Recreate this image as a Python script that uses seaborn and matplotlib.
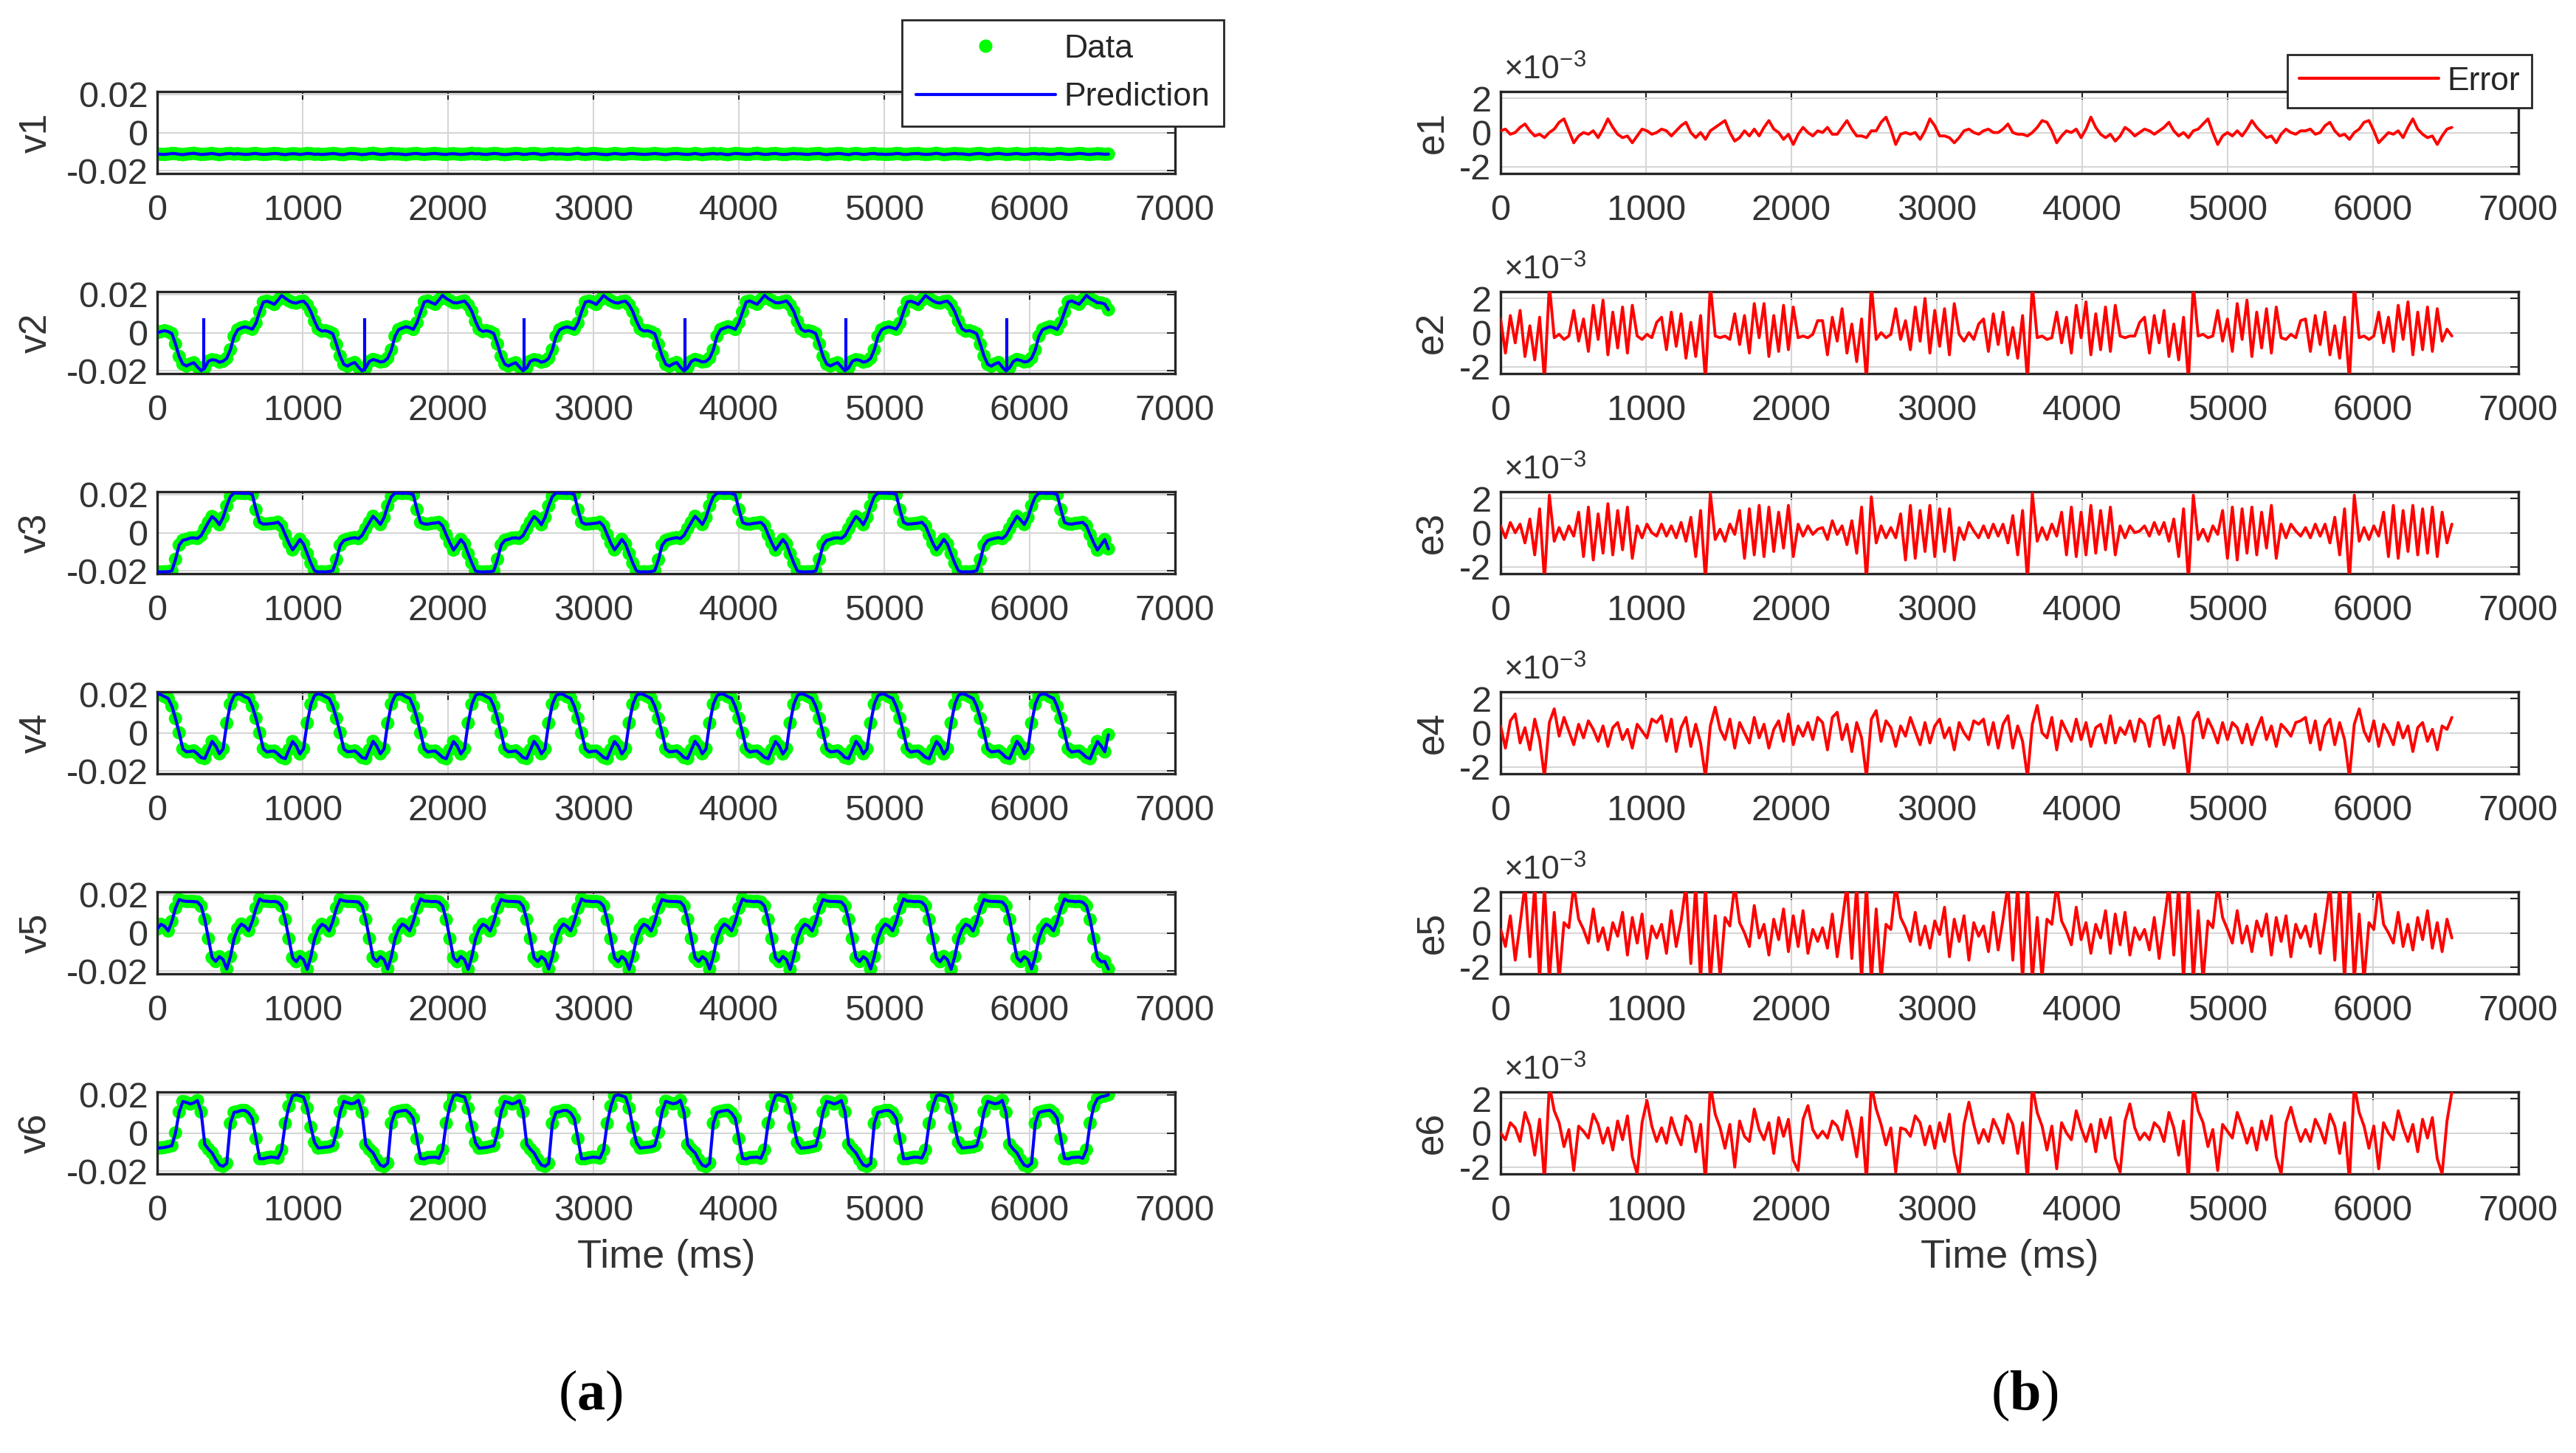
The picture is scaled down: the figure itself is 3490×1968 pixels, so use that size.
import numpy as np
import pandas as pd
import matplotlib
matplotlib.use("Agg")
import matplotlib.pyplot as plt
import seaborn as sns
from matplotlib.lines import Line2D

# ---------------- data ----------------
dt_v_ms = 25.16   # sampling step of the v-signals
dt_e_ms = 33.55   # sampling step of the error signals

v1 = [-0.0112, -0.0114, -0.0115, -0.0113, -0.0110, -0.0111, -0.0114, -0.0116, -0.0113, -0.0111, -0.0109, -0.0112, -0.0115, -0.0114, -0.0112, -0.0110, -0.0113, -0.0116, -0.0114, -0.0111, -0.0110, -0.0113,
      -0.0111, -0.0113, -0.0115, -0.0114, -0.0111, -0.0110, -0.0113, -0.0115, -0.0114, -0.0112, -0.0110, -0.0111, -0.0114, -0.0116, -0.0113, -0.0111, -0.0112, -0.0115, -0.0113, -0.0110, -0.0111, -0.0114,
      -0.0113, -0.0115, -0.0114, -0.0112, -0.0110, -0.0112, -0.0115, -0.0116, -0.0112, -0.0110, -0.0111, -0.0113, -0.0116, -0.0114, -0.0111, -0.0109, -0.0112, -0.0115, -0.0115, -0.0112, -0.0110, -0.0112,
      -0.0112, -0.0114, -0.0116, -0.0113, -0.0111, -0.0110, -0.0113, -0.0115, -0.0113, -0.0111, -0.0110, -0.0112, -0.0114, -0.0115, -0.0112, -0.0111, -0.0113, -0.0115, -0.0114, -0.0112, -0.0109, -0.0112,
      -0.0111, -0.0114, -0.0115, -0.0112, -0.0110, -0.0111, -0.0114, -0.0116, -0.0114, -0.0112, -0.0110, -0.0111, -0.0115, -0.0114, -0.0111, -0.0110, -0.0112, -0.0116, -0.0115, -0.0112, -0.0110, -0.0113,
      -0.0112, -0.0113, -0.0115, -0.0114, -0.0111, -0.0109, -0.0113, -0.0115, -0.0113, -0.0110, -0.0111, -0.0113, -0.0115, -0.0116, -0.0113, -0.0110, -0.0112, -0.0114, -0.0114, -0.0111, -0.0110, -0.0112,
      -0.0113, -0.0115, -0.0114, -0.0112, -0.0110, -0.0112, -0.0114, -0.0116, -0.0113, -0.0111, -0.0110, -0.0112, -0.0114, -0.0115, -0.0113, -0.0110, -0.0113, -0.0116, -0.0114, -0.0112, -0.0110, -0.0113,
      -0.0111, -0.0114, -0.0116, -0.0113, -0.0110, -0.0111, -0.0113, -0.0115, -0.0114, -0.0111, -0.0109, -0.0112, -0.0115, -0.0114, -0.0111, -0.0110, -0.0113, -0.0115, -0.0115, -0.0112, -0.0110, -0.0112,
      -0.0112, -0.0114, -0.0115, -0.0112, -0.0111, -0.0110, -0.0114, -0.0116, -0.0113, -0.0112, -0.0110, -0.0111, -0.0114, -0.0116, -0.0112, -0.0110, -0.0112, -0.0115, -0.0114, -0.0111, -0.0110, -0.0113,
      -0.0113, -0.0115, -0.0114, -0.0113, -0.0110, -0.0111, -0.0115, -0.0115, -0.0112, -0.0111, -0.0110, -0.0113, -0.0115, -0.0114, -0.0112, -0.0109, -0.0112, -0.0116, -0.0114, -0.0112, -0.0110, -0.0112,
      -0.0112, -0.0114, -0.0116, -0.0113, -0.0111, -0.0110, -0.0113, -0.0116, -0.0114, -0.0111, -0.0110, -0.0112, -0.0115, -0.0114, -0.0112, -0.0110, -0.0113, -0.0115, -0.0114, -0.0111, -0.0110, -0.0113,
      -0.0111, -0.0113, -0.0115, -0.0114, -0.0111, -0.0110, -0.0113, -0.0115, -0.0114, -0.0112, -0.0110, -0.0111, -0.0114, -0.0115, -0.0113, -0.0111, -0.0112, -0.0114, -0.0113]

v2 = [0.0000, 0.0005, 0.0010, 0.0005, -0.0005, -0.0060, -0.0125, -0.0165, -0.0175, -0.0165, -0.0158, -0.0180, -0.0200, -0.0185, -0.0150, -0.0142, -0.0145, -0.0155, -0.0150, -0.0135, -0.0090, -0.0020, 0.0015, 0.0025, 0.0030, 0.0025, 0.0018, 0.0050, 0.0110, 0.0160, 0.0165, 0.0158, 0.0148, 0.0170, 0.0195, 0.0180, 0.0167, 0.0158, 0.0155, 0.0162, 0.0165, 0.0145, 0.0110, 0.0060,
      0.0020, 0.0008, 0.0010, 0.0004, -0.0006, -0.0062, -0.0123, -0.0166, -0.0176, -0.0164, -0.0157, -0.0181, -0.0201, -0.0184, -0.0151, -0.0141, -0.0146, -0.0154, -0.0151, -0.0134, -0.0091, -0.0019, 0.0016, 0.0024, 0.0031, 0.0026, 0.0017, 0.0052, 0.0108, 0.0161, 0.0166, 0.0157, 0.0149, 0.0171, 0.0196, 0.0179, 0.0168, 0.0157, 0.0156, 0.0161, 0.0166, 0.0144, 0.0111, 0.0059,
      0.0018, 0.0006, 0.0010, 0.0005, -0.0005, -0.0060, -0.0125, -0.0165, -0.0175, -0.0165, -0.0158, -0.0180, -0.0200, -0.0185, -0.0150, -0.0142, -0.0145, -0.0155, -0.0150, -0.0135, -0.0090, -0.0020, 0.0015, 0.0025, 0.0030, 0.0025, 0.0018, 0.0050, 0.0110, 0.0160, 0.0165, 0.0158, 0.0148, 0.0170, 0.0195, 0.0180, 0.0167, 0.0158, 0.0155, 0.0162, 0.0165, 0.0145, 0.0110, 0.0060,
      0.0020, 0.0008, 0.0010, 0.0004, -0.0006, -0.0062, -0.0123, -0.0166, -0.0176, -0.0164, -0.0157, -0.0181, -0.0201, -0.0184, -0.0151, -0.0141, -0.0146, -0.0154, -0.0151, -0.0134, -0.0091, -0.0019, 0.0016, 0.0024, 0.0031, 0.0026, 0.0017, 0.0052, 0.0108, 0.0161, 0.0166, 0.0157, 0.0149, 0.0171, 0.0196, 0.0179, 0.0168, 0.0157, 0.0156, 0.0161, 0.0166, 0.0144, 0.0111, 0.0059,
      0.0019, 0.0006, 0.0010, 0.0005, -0.0005, -0.0060, -0.0125, -0.0165, -0.0175, -0.0165, -0.0158, -0.0180, -0.0200, -0.0185, -0.0150, -0.0142, -0.0145, -0.0155, -0.0150, -0.0135, -0.0090, -0.0020, 0.0015, 0.0025, 0.0030, 0.0025, 0.0018, 0.0050, 0.0110, 0.0160, 0.0165, 0.0158, 0.0148, 0.0170, 0.0195, 0.0180, 0.0167, 0.0158, 0.0155, 0.0162, 0.0165, 0.0145, 0.0110, 0.0060,
      0.0020, 0.0008, 0.0010, 0.0004, -0.0006, -0.0062, -0.0123, -0.0166, -0.0176, -0.0164, -0.0157, -0.0181, -0.0201, -0.0184, -0.0151, -0.0141, -0.0146, -0.0154, -0.0151, -0.0134, -0.0091, -0.0019, 0.0016, 0.0024, 0.0031, 0.0026, 0.0017, 0.0052, 0.0108, 0.0161, 0.0166, 0.0157, 0.0149, 0.0171, 0.0196, 0.0179, 0.0168, 0.0157, 0.0156, 0.0150, 0.0120]

v3 = [-0.0205, -0.0206, -0.0205, -0.0205, -0.0200, -0.0140, -0.0065, -0.0040, -0.0035, -0.0028, -0.0027, -0.0030, -0.0015, 0.0020, 0.0055, 0.0085, 0.0068, 0.0042, 0.0080, 0.0140, 0.0190, 0.0208, 0.0208, 0.0207, 0.0206, 0.0207, 0.0200, 0.0120, 0.0055, 0.0045, 0.0046, 0.0048, 0.0050, 0.0055, 0.0035, -0.0010, -0.0055, -0.0090, -0.0065, -0.0035, -0.0060, -0.0110, -0.0160, -0.0200,
      -0.0206, -0.0205, -0.0206, -0.0204, -0.0199, -0.0142, -0.0066, -0.0041, -0.0034, -0.0029, -0.0026, -0.0031, -0.0014, 0.0021, 0.0054, 0.0086, 0.0067, 0.0043, 0.0079, 0.0141, 0.0189, 0.0207, 0.0208, 0.0206, 0.0207, 0.0206, 0.0199, 0.0121, 0.0054, 0.0046, 0.0045, 0.0049, 0.0051, 0.0054, 0.0036, -0.0011, -0.0054, -0.0091, -0.0064, -0.0036, -0.0059, -0.0111, -0.0159, -0.0201,
      -0.0205, -0.0206, -0.0205, -0.0205, -0.0200, -0.0140, -0.0065, -0.0040, -0.0035, -0.0028, -0.0027, -0.0030, -0.0015, 0.0020, 0.0055, 0.0085, 0.0068, 0.0042, 0.0080, 0.0140, 0.0190, 0.0208, 0.0208, 0.0207, 0.0206, 0.0207, 0.0200, 0.0120, 0.0055, 0.0045, 0.0046, 0.0048, 0.0050, 0.0055, 0.0035, -0.0010, -0.0055, -0.0090, -0.0065, -0.0035, -0.0060, -0.0110, -0.0160, -0.0200,
      -0.0206, -0.0205, -0.0206, -0.0204, -0.0199, -0.0142, -0.0066, -0.0041, -0.0034, -0.0029, -0.0026, -0.0031, -0.0014, 0.0021, 0.0054, 0.0086, 0.0067, 0.0043, 0.0079, 0.0141, 0.0189, 0.0207, 0.0208, 0.0206, 0.0207, 0.0206, 0.0199, 0.0121, 0.0054, 0.0046, 0.0045, 0.0049, 0.0051, 0.0054, 0.0036, -0.0011, -0.0054, -0.0091, -0.0064, -0.0036, -0.0059, -0.0111, -0.0159, -0.0201,
      -0.0205, -0.0206, -0.0205, -0.0205, -0.0200, -0.0140, -0.0065, -0.0040, -0.0035, -0.0028, -0.0027, -0.0030, -0.0015, 0.0020, 0.0055, 0.0085, 0.0068, 0.0042, 0.0080, 0.0140, 0.0190, 0.0208, 0.0208, 0.0207, 0.0206, 0.0207, 0.0200, 0.0120, 0.0055, 0.0045, 0.0046, 0.0048, 0.0050, 0.0055, 0.0035, -0.0010, -0.0055, -0.0090, -0.0065, -0.0035, -0.0060, -0.0110, -0.0160, -0.0200,
      -0.0206, -0.0205, -0.0206, -0.0204, -0.0199, -0.0142, -0.0066, -0.0041, -0.0034, -0.0029, -0.0026, -0.0031, -0.0014, 0.0021, 0.0054, 0.0086, 0.0067, 0.0043, 0.0079, 0.0141, 0.0189, 0.0207, 0.0208, 0.0206, 0.0207, 0.0206, 0.0199, 0.0121, 0.0054, 0.0046, 0.0045, 0.0049, 0.0051, 0.0054, 0.0036, -0.0011, -0.0054, -0.0091, -0.0064, -0.0036, -0.0085]

v4 = [0.0205, 0.0200, 0.0190, 0.0180, 0.0140, 0.0075, 0.0000, -0.0085, -0.0100, -0.0098, -0.0095, -0.0110, -0.0130, -0.0135, -0.0090, -0.0045, -0.0070, -0.0110, -0.0085, 0.0050, 0.0150, 0.0195,
      0.0204, 0.0201, 0.0189, 0.0181, 0.0139, 0.0076, -0.0001, -0.0084, -0.0101, -0.0097, -0.0096, -0.0111, -0.0129, -0.0136, -0.0089, -0.0046, -0.0069, -0.0111, -0.0084, 0.0051, 0.0149, 0.0196,
      0.0205, 0.0200, 0.0190, 0.0180, 0.0140, 0.0075, 0.0000, -0.0085, -0.0100, -0.0098, -0.0095, -0.0110, -0.0130, -0.0135, -0.0090, -0.0045, -0.0070, -0.0110, -0.0085, 0.0050, 0.0150, 0.0195,
      0.0204, 0.0201, 0.0189, 0.0181, 0.0139, 0.0076, -0.0001, -0.0084, -0.0101, -0.0097, -0.0096, -0.0111, -0.0129, -0.0136, -0.0089, -0.0046, -0.0069, -0.0111, -0.0084, 0.0051, 0.0149, 0.0196,
      0.0205, 0.0200, 0.0190, 0.0180, 0.0140, 0.0075, 0.0000, -0.0085, -0.0100, -0.0098, -0.0095, -0.0110, -0.0130, -0.0135, -0.0090, -0.0045, -0.0070, -0.0110, -0.0085, 0.0050, 0.0150, 0.0195,
      0.0204, 0.0201, 0.0189, 0.0181, 0.0139, 0.0076, -0.0001, -0.0084, -0.0101, -0.0097, -0.0096, -0.0111, -0.0129, -0.0136, -0.0089, -0.0046, -0.0069, -0.0111, -0.0084, 0.0051, 0.0149, 0.0196,
      0.0205, 0.0200, 0.0190, 0.0180, 0.0140, 0.0075, 0.0000, -0.0085, -0.0100, -0.0098, -0.0095, -0.0110, -0.0130, -0.0135, -0.0090, -0.0045, -0.0070, -0.0110, -0.0085, 0.0050, 0.0150, 0.0195,
      0.0204, 0.0201, 0.0189, 0.0181, 0.0139, 0.0076, -0.0001, -0.0084, -0.0101, -0.0097, -0.0096, -0.0111, -0.0129, -0.0136, -0.0089, -0.0046, -0.0069, -0.0111, -0.0084, 0.0051, 0.0149, 0.0196,
      0.0205, 0.0200, 0.0190, 0.0180, 0.0140, 0.0075, 0.0000, -0.0085, -0.0100, -0.0098, -0.0095, -0.0110, -0.0130, -0.0135, -0.0090, -0.0045, -0.0070, -0.0110, -0.0085, 0.0050, 0.0150, 0.0195,
      0.0204, 0.0201, 0.0189, 0.0181, 0.0139, 0.0076, -0.0001, -0.0084, -0.0101, -0.0097, -0.0096, -0.0111, -0.0129, -0.0136, -0.0089, -0.0046, -0.0069, -0.0111, -0.0084, 0.0051, 0.0149, 0.0196,
      0.0205, 0.0200, 0.0190, 0.0180, 0.0140, 0.0075, 0.0000, -0.0085, -0.0100, -0.0098, -0.0095, -0.0110, -0.0130, -0.0135, -0.0090, -0.0045, -0.0070, -0.0110, -0.0085, 0.0050, 0.0150, 0.0195,
      0.0204, 0.0201, 0.0189, 0.0181, 0.0139, 0.0076, -0.0001, -0.0084, -0.0101, -0.0097, -0.0096, -0.0111, -0.0129, -0.0136, -0.0089, -0.0046, -0.0069, -0.0100, -0.0010]

v5 = [0.0020, 0.0045, 0.0035, 0.0010, 0.0060, 0.0130, 0.0175, 0.0168, 0.0165, 0.0165, 0.0164, 0.0162, 0.0140, 0.0070, -0.0030, -0.0130, -0.0150, -0.0125, -0.0140, -0.0190, -0.0125, -0.0030,
      0.0021, 0.0046, 0.0034, 0.0011, 0.0061, 0.0129, 0.0178, 0.0167, 0.0166, 0.0164, 0.0165, 0.0161, 0.0141, 0.0069, -0.0031, -0.0131, -0.0151, -0.0124, -0.0141, -0.0192, -0.0124, -0.0031,
      0.0020, 0.0045, 0.0035, 0.0010, 0.0060, 0.0130, 0.0175, 0.0168, 0.0165, 0.0165, 0.0164, 0.0162, 0.0140, 0.0070, -0.0030, -0.0130, -0.0150, -0.0125, -0.0140, -0.0190, -0.0125, -0.0030,
      0.0021, 0.0046, 0.0034, 0.0011, 0.0061, 0.0129, 0.0178, 0.0167, 0.0166, 0.0164, 0.0165, 0.0161, 0.0141, 0.0069, -0.0031, -0.0131, -0.0151, -0.0124, -0.0141, -0.0192, -0.0124, -0.0031,
      0.0020, 0.0045, 0.0035, 0.0010, 0.0060, 0.0130, 0.0175, 0.0168, 0.0165, 0.0165, 0.0164, 0.0162, 0.0140, 0.0070, -0.0030, -0.0130, -0.0150, -0.0125, -0.0140, -0.0190, -0.0125, -0.0030,
      0.0021, 0.0046, 0.0034, 0.0011, 0.0061, 0.0129, 0.0178, 0.0167, 0.0166, 0.0164, 0.0165, 0.0161, 0.0141, 0.0069, -0.0031, -0.0131, -0.0151, -0.0124, -0.0141, -0.0192, -0.0124, -0.0031,
      0.0020, 0.0045, 0.0035, 0.0010, 0.0060, 0.0130, 0.0175, 0.0168, 0.0165, 0.0165, 0.0164, 0.0162, 0.0140, 0.0070, -0.0030, -0.0130, -0.0150, -0.0125, -0.0140, -0.0190, -0.0125, -0.0030,
      0.0021, 0.0046, 0.0034, 0.0011, 0.0061, 0.0129, 0.0178, 0.0167, 0.0166, 0.0164, 0.0165, 0.0161, 0.0141, 0.0069, -0.0031, -0.0131, -0.0151, -0.0124, -0.0141, -0.0192, -0.0124, -0.0031,
      0.0020, 0.0045, 0.0035, 0.0010, 0.0060, 0.0130, 0.0175, 0.0168, 0.0165, 0.0165, 0.0164, 0.0162, 0.0140, 0.0070, -0.0030, -0.0130, -0.0150, -0.0125, -0.0140, -0.0190, -0.0125, -0.0030,
      0.0021, 0.0046, 0.0034, 0.0011, 0.0061, 0.0129, 0.0178, 0.0167, 0.0166, 0.0164, 0.0165, 0.0161, 0.0141, 0.0069, -0.0031, -0.0131, -0.0151, -0.0124, -0.0141, -0.0192, -0.0124, -0.0031,
      0.0020, 0.0045, 0.0035, 0.0010, 0.0060, 0.0130, 0.0175, 0.0168, 0.0165, 0.0165, 0.0164, 0.0162, 0.0140, 0.0070, -0.0030, -0.0130, -0.0150, -0.0125, -0.0140, -0.0190, -0.0125, -0.0030,
      0.0021, 0.0046, 0.0034, 0.0011, 0.0061, 0.0129, 0.0178, 0.0167, 0.0166, 0.0164, 0.0165, 0.0161, 0.0141, 0.0069, -0.0031, -0.0131, -0.0151, -0.0150, -0.0190]

v6 = [-0.0080, -0.0078, -0.0076, -0.0072, -0.0067, 0.0000, 0.0110, 0.0165, 0.0160, 0.0152, 0.0158, 0.0170, 0.0110, -0.0060, -0.0085, -0.0105, -0.0140, -0.0168, -0.0175, -0.0160, 0.0050, 0.0108, 0.0112, 0.0118, 0.0118, 0.0105, 0.0075, -0.0030, -0.0135, -0.0135, -0.0130, -0.0127, -0.0128, -0.0132, -0.0090, 0.0050, 0.0140, 0.0195, 0.0200, 0.0195, 0.0188, 0.0130, 0.0030, -0.0050,
      -0.0079, -0.0077, -0.0075, -0.0073, -0.0066, 0.0002, 0.0111, 0.0166, 0.0159, 0.0153, 0.0157, 0.0171, 0.0108, -0.0061, -0.0086, -0.0104, -0.0141, -0.0169, -0.0176, -0.0159, 0.0051, 0.0107, 0.0113, 0.0117, 0.0119, 0.0104, 0.0076, -0.0031, -0.0134, -0.0136, -0.0129, -0.0128, -0.0127, -0.0133, -0.0089, 0.0051, 0.0141, 0.0196, 0.0201, 0.0194, 0.0189, 0.0129, 0.0031, -0.0051,
      -0.0080, -0.0078, -0.0076, -0.0072, -0.0067, 0.0000, 0.0110, 0.0165, 0.0160, 0.0152, 0.0158, 0.0170, 0.0110, -0.0060, -0.0085, -0.0105, -0.0140, -0.0168, -0.0175, -0.0160, 0.0050, 0.0108, 0.0112, 0.0118, 0.0118, 0.0105, 0.0075, -0.0030, -0.0135, -0.0135, -0.0130, -0.0127, -0.0128, -0.0132, -0.0090, 0.0050, 0.0140, 0.0195, 0.0200, 0.0195, 0.0188, 0.0130, 0.0030, -0.0050,
      -0.0079, -0.0077, -0.0075, -0.0073, -0.0066, 0.0002, 0.0111, 0.0166, 0.0159, 0.0153, 0.0157, 0.0171, 0.0108, -0.0061, -0.0086, -0.0104, -0.0141, -0.0169, -0.0176, -0.0159, 0.0051, 0.0107, 0.0113, 0.0117, 0.0119, 0.0104, 0.0076, -0.0031, -0.0134, -0.0136, -0.0129, -0.0128, -0.0127, -0.0133, -0.0089, 0.0051, 0.0141, 0.0196, 0.0201, 0.0194, 0.0189, 0.0129, 0.0031, -0.0051,
      -0.0080, -0.0078, -0.0076, -0.0072, -0.0067, 0.0000, 0.0110, 0.0165, 0.0160, 0.0152, 0.0158, 0.0170, 0.0110, -0.0060, -0.0085, -0.0105, -0.0140, -0.0168, -0.0175, -0.0160, 0.0050, 0.0108, 0.0112, 0.0118, 0.0118, 0.0105, 0.0075, -0.0030, -0.0135, -0.0135, -0.0130, -0.0127, -0.0128, -0.0132, -0.0090, 0.0050, 0.0140, 0.0195, 0.0200, 0.0195, 0.0188, 0.0130, 0.0030, -0.0050,
      -0.0079, -0.0077, -0.0075, -0.0073, -0.0066, 0.0002, 0.0111, 0.0166, 0.0159, 0.0153, 0.0157, 0.0171, 0.0108, -0.0061, -0.0086, -0.0104, -0.0141, -0.0169, -0.0176, -0.0159, 0.0051, 0.0107, 0.0113, 0.0117, 0.0119, 0.0104, 0.0076, -0.0031, -0.0134, -0.0136, -0.0129, -0.0128, -0.0127, -0.0133, -0.0089, 0.0051, 0.0141, 0.0180, 0.0190, 0.0194, 0.0200]

# thin prediction spikes visible in v2
v2_spike_times_ms = [320, 1425, 2525, 3630, 4737, 5845]
v2_spike_low = [-0.0200, -0.0203, -0.0201, -0.0202, -0.0201, -0.0202]
v2_spike_high = [0.0075, 0.0075, 0.0075, 0.0075, 0.0075, 0.0075]

# errors, in units of 1e-3
e1 = [0.1, 0.2, -0.1, 0.0, 0.3, 0.5, 0.1, -0.2, -0.1, -0.3, 0.0, 0.2, 0.6, 0.8, 0.1, -0.6, -0.2, 0.0, -0.1, 0.1, -0.3, 0.2, 0.8, 0.3, -0.1, -0.3, -0.2, -0.6, -0.2, 0.2, 0.1, -0.1, 0.0,
      0.2, 0.1, -0.2, 0.1, 0.4, 0.6, 0.0, -0.3, 0.0, -0.4, 0.1, 0.3, 0.5, 0.7, 0.0, -0.5, -0.3, 0.1, -0.2, 0.2, -0.2, 0.3, 0.7, 0.2, 0.0, -0.4, -0.1, -0.7, -0.1, 0.3, 0.0, -0.2, 0.1,
      0.0, 0.3, -0.1, -0.1, 0.3, 0.7, 0.2, -0.2, -0.2, -0.3, 0.1, 0.1, 0.6, 0.9, 0.2, -0.7, -0.1, 0.0, -0.1, 0.0, -0.4, 0.1, 0.8, 0.4, -0.2, -0.2, -0.3, -0.6, -0.3, 0.1, 0.2, 0.0, -0.1,
      0.1, 0.2, 0.0, 0.0, 0.2, 0.5, 0.0, -0.1, -0.1, -0.2, 0.0, 0.3, 0.7, 0.6, 0.1, -0.6, -0.2, 0.1, 0.0, 0.2, -0.3, 0.2, 0.9, 0.3, -0.1, -0.3, -0.1, -0.5, -0.2, 0.3, 0.1, -0.2, 0.0,
      0.2, 0.1, -0.1, 0.1, 0.3, 0.6, 0.1, -0.2, 0.0, -0.3, 0.1, 0.2, 0.5, 0.8, 0.0, -0.7, -0.2, 0.0, -0.2, 0.1, -0.2, 0.2, 0.7, 0.3, 0.0, -0.3, -0.2, -0.6, -0.1, 0.2, 0.0, -0.1, 0.1,
      0.1, 0.2, -0.1, 0.0, 0.4, 0.6, 0.1, -0.2, -0.1, -0.4, 0.0, 0.2, 0.6, 0.7, 0.1, -0.6, -0.3, 0.0, -0.1, 0.1, -0.3, 0.3, 0.8, 0.2, -0.1, -0.3, -0.2, -0.7, -0.2, 0.2, 0.3]

e2 = [0.8, -1.2, 1.0, -0.6, 1.3, -1.4, 0.4, -1.6, 0.9, -2.8, 2.8, -0.3, -0.1, -0.4, -0.2, 1.3, -0.5, 0.8, -1.1, 1.6, -0.4, 1.9, -1.3, 1.2, -0.9, 1.5, -1.2, 1.6, -0.2, -0.4, -0.1, -0.3, 0.6,
      0.9, -1.0, 1.2, -0.8, 1.1, -1.5, 0.6, -1.4, 1.0, -2.8, 2.8, -0.2, -0.3, -0.2, -0.4, 1.1, -0.7, 1.0, -1.2, 1.7, -0.3, 1.7, -1.4, 1.0, -1.1, 1.6, -1.0, 1.5, -0.3, -0.2, -0.3, -0.1, 0.7,
      0.7, -1.3, 0.9, -0.5, 1.4, -1.2, 0.5, -1.7, 0.8, -2.8, 2.8, -0.4, 0.0, -0.3, -0.1, 1.4, -0.4, 0.7, -1.0, 1.5, -0.5, 2.0, -1.2, 1.3, -0.8, 1.4, -1.3, 1.7, -0.1, -0.5, 0.0, -0.4, 0.5,
      0.8, -1.1, 1.1, -0.7, 1.2, -1.3, 0.3, -1.5, 1.0, -2.8, 2.8, -0.3, -0.2, -0.4, -0.3, 1.2, -0.6, 0.9, -1.2, 1.6, -0.3, 1.8, -1.3, 1.1, -1.0, 1.5, -1.1, 1.6, -0.2, -0.3, -0.2, -0.2, 0.6,
      0.9, -1.2, 1.0, -0.6, 1.3, -1.4, 0.5, -1.6, 0.9, -2.8, 2.8, -0.2, -0.1, -0.3, -0.2, 1.3, -0.5, 0.8, -1.1, 1.7, -0.4, 1.9, -1.4, 1.2, -0.9, 1.4, -1.2, 1.5, -0.3, -0.4, -0.1, -0.3, 0.7,
      0.8, -1.1, 1.0, -0.7, 1.2, -1.3, 0.4, -1.5, 0.9, -2.8, 2.8, -0.3, -0.2, -0.4, -0.2, 1.2, -0.6, 0.9, -1.1, 1.6, -0.4, 1.8, -1.3, 1.2, -1.0, 1.5, -1.1, 1.4, -0.5, 0.2, -0.2]

e3 = [0.4, -0.3, 0.6, 0.0, 0.5, -0.6, 0.8, -1.3, 1.4, -2.8, 2.2, -0.5, 0.3, -0.4, 0.4, -0.2, 1.2, -1.4, 1.5, -1.6, 1.1, -1.2, 1.7, -1.3, 1.3, -1.0, 1.5, -1.5, 0.4, -0.3, 0.5, 0.0, -0.2,
      0.5, -0.2, 0.4, -0.3, 0.6, -0.5, 0.9, -1.4, 1.3, -2.8, 2.3, -0.4, 0.2, -0.5, 0.5, -0.1, 1.3, -1.5, 1.4, -1.3, 1.6, -1.4, 1.5, -1.1, 1.2, -0.9, 1.6, -1.4, 0.5, -0.2, 0.4, -0.1, 0.2,
      0.3, -0.4, 0.7, -0.1, 0.4, -0.7, 0.7, -1.2, 1.5, -2.8, 2.1, -0.6, 0.4, -0.3, 0.3, -0.3, 1.1, -1.6, 1.6, -1.5, 1.3, -1.1, 1.6, -1.4, 1.4, -1.1, 1.4, -1.6, 0.3, -0.4, 0.6, 0.1, -0.3,
      0.4, -0.3, 0.5, -0.2, 0.5, -0.6, 1.0, -1.3, 1.3, -2.8, 2.3, -0.5, 0.3, -0.4, 0.5, -0.2, 1.2, -1.3, 1.5, -1.4, 1.2, -1.3, 1.6, -1.2, 1.3, -1.0, 1.5, -1.3, 0.4, -0.3, 0.4, 0.0, 0.1,
      0.4, -0.2, 0.6, -0.1, 0.6, -0.5, 0.8, -1.4, 1.4, -2.8, 2.2, -0.4, 0.2, -0.5, 0.4, -0.1, 1.3, -1.5, 1.5, -1.6, 1.4, -1.2, 1.5, -1.3, 1.2, -0.9, 1.6, -1.5, 0.5, -0.3, 0.5, 0.1, -0.2,
      0.3, -0.3, 0.5, -0.2, 0.5, -0.6, 0.9, -1.3, 1.4, -2.8, 2.2, -0.5, 0.3, -0.4, 0.4, -0.2, 1.2, -1.4, 1.6, -1.5, 1.3, -1.1, 1.6, -1.3, 1.4, -1.2, 1.5, -1.4, 1.2, -0.6, 0.5]

e4 = [0.4, -0.9, 0.7, 1.1, -0.6, 0.3, -1.0, 0.8, -0.4, -2.6, 0.6, 1.4, -0.2, 0.9, 0.1, -0.7, 0.5, -0.3, 0.7, 0.2, -0.5, 0.4, -0.8, 0.3, 0.6, -0.4, 0.2, -0.9, 0.5, 0.1, -0.3, 0.8, 0.6,
      1.0, -0.5, 0.8, -1.1, 0.3, 0.9, -0.8, 0.5, -0.6, -2.6, 0.4, 1.5, 0.2, -0.4, 0.8, -0.9, 0.6, 0.0, -0.6, 0.9, -0.3, 0.5, -0.9, 0.2, 0.7, -0.5, 1.1, -0.7, 0.4, -0.2, 0.6, -0.4, 0.9,
      0.6, -1.0, 0.9, 1.2, -0.4, 0.5, -1.1, 0.6, -0.3, -2.6, 0.8, 1.3, -0.5, 0.7, 0.3, -0.8, 0.4, -0.2, 0.9, 0.1, -0.7, 0.6, -0.6, 0.4, 0.8, -0.3, 0.3, -1.0, 0.6, 0.0, -0.4, 0.7, 0.5,
      0.8, -0.7, 0.6, -0.9, 0.5, 1.0, -0.9, 0.4, -0.5, -2.6, 0.5, 1.6, 0.0, -0.3, 0.9, -1.0, 0.7, 0.1, -0.5, 0.8, -0.4, 0.6, -0.8, 0.3, 0.5, -0.6, 1.0, -0.6, 0.3, -0.1, 0.7, -0.5, 0.8,
      0.5, -0.8, 0.8, 1.0, -0.7, 0.4, -0.9, 0.9, -0.2, -2.6, 0.7, 1.2, -0.3, 0.8, 0.2, -0.6, 0.6, -0.4, 0.6, 0.3, -0.6, 0.5, -0.7, 0.2, 0.9, -0.4, 0.4, -0.8, 0.5, 0.2, -0.2, 0.6, 0.7,
      0.9, -0.6, 0.7, -1.0, 0.4, 0.8, -0.7, 0.6, -0.4, -2.6, 0.5, 1.4, 0.1, -0.5, 0.7, -0.8, 0.5, 0.0, -0.7, 0.6, -0.3, 0.4, -1.1, 0.3, 0.6, -0.5, 0.2, -1.0, 0.4, 0.2, 0.9]

e5 = [0.2, -0.8, 1.0, -1.6, 0.5, 2.8, -1.4, 2.8, -2.8, 2.8, -2.8, 1.2, -2.8, 0.6, 0.3, 2.8, 0.8, 0.2, -0.6, 1.4, -0.5, 0.3, -1.0, 0.6, -0.2, 1.2, -1.3, 0.9, -0.6, 1.1, -1.5, 0.4, -0.3,
      0.5, -1.2, 1.3, -0.8, 0.7, 2.8, -1.8, 2.8, -2.8, 2.8, -2.8, 1.0, -2.6, 0.9, 0.4, 2.8, 0.6, 0.0, -0.8, 1.6, -0.3, 0.5, -1.3, 0.8, -0.4, 1.4, -1.1, 1.0, -0.8, 1.3, -1.2, 0.2, -0.5,
      0.3, -0.9, 1.1, -1.4, 0.6, 2.8, -1.5, 2.8, -2.8, 2.8, -2.8, 1.4, -2.8, 0.5, 0.2, 2.8, 0.9, 0.3, -0.5, 1.2, -0.7, 0.4, -0.9, 0.7, -0.1, 1.5, -1.4, 0.8, -0.5, 1.0, -1.6, 0.6, -0.2,
      0.4, -1.1, 1.2, -1.0, 0.8, 2.8, -1.6, 2.8, -2.8, 2.8, -2.8, 0.9, -2.7, 0.8, 0.5, 2.8, 0.7, 0.1, -0.7, 1.5, -0.4, 0.6, -1.2, 0.5, -0.3, 1.3, -1.2, 1.1, -0.7, 1.2, -1.3, 0.3, -0.4,
      0.2, -1.0, 0.9, -1.5, 0.6, 2.8, -1.3, 2.8, -2.8, 2.8, -2.8, 1.3, -2.8, 0.7, 0.3, 2.8, 0.9, 0.2, -0.6, 1.3, -0.6, 0.4, -1.1, 0.7, -0.2, 1.1, -1.3, 0.9, -0.5, 1.0, -1.4, 0.5, -0.3,
      0.4, -0.8, 1.1, -1.2, 0.7, 2.8, -1.6, 2.8, -2.8, 2.8, -2.8, 1.1, -2.8, 0.6, 0.2, 2.8, 0.5, 0.0, -0.6, 1.2, -0.8, 0.5, -1.0, 0.9, -0.4, 1.3, -0.9, 0.6, -1.1, 0.8, -0.3]

e6 = [0.0, -0.4, 0.6, 0.3, -0.5, 1.2, 0.4, -1.3, 0.8, -2.8, 2.8, 1.3, 0.6, -0.8, 0.2, -2.2, 0.4, 0.1, -0.3, 1.1, 0.5, -0.6, 0.3, -1.0, 0.7, -0.4, 1.0, -1.4, -2.4, 0.6, 1.9, 0.4, -0.5,
      0.3, -0.6, 0.9, 0.0, -0.7, 1.0, 0.6, -1.1, 0.5, -2.8, 2.8, 1.1, 0.3, -0.9, 0.5, -2.0, 0.7, -0.2, -0.5, 1.4, 0.2, -0.4, 0.6, -1.2, 0.9, -0.2, 0.8, -1.6, -2.2, 0.8, 1.6, 0.2, -0.3,
      0.1, -0.3, 0.7, 0.4, -0.4, 1.3, 0.2, -1.4, 0.9, -2.8, 2.8, 1.4, 0.5, -0.7, 0.3, -2.3, 0.3, 0.2, -0.2, 1.0, 0.6, -0.7, 0.4, -0.9, 0.6, -0.5, 1.1, -1.2, -2.5, 0.5, 1.8, 0.5, -0.6,
      0.2, -0.5, 0.8, 0.2, -0.6, 1.1, 0.5, -1.2, 0.6, -2.8, 2.8, 1.2, 0.4, -1.0, 0.4, -2.1, 0.6, 0.0, -0.4, 1.3, 0.3, -0.5, 0.5, -1.1, 0.8, -0.3, 0.9, -1.5, -2.3, 0.7, 1.7, 0.3, -0.4,
      0.0, -0.4, 0.6, 0.3, -0.5, 1.2, 0.3, -1.3, 0.7, -2.8, 2.8, 1.3, 0.6, -0.8, 0.2, -2.2, 0.5, 0.1, -0.3, 1.2, 0.4, -0.6, 0.3, -1.0, 0.7, -0.4, 1.0, -1.4, -2.4, 0.6, 1.5, 0.4, -0.5,
      0.2, -0.5, 0.8, 0.2, -0.6, 1.1, 0.4, -1.2, 0.6, -2.8, 2.8, 1.2, 0.4, -0.9, 0.4, -2.1, 0.6, 0.0, -0.4, 1.3, 0.3, -0.5, 0.5, -1.1, 0.8, -0.3, 0.9, -1.5, -2.4, 0.7, 2.4]

v_series = {"v1": v1, "v2": v2, "v3": v3, "v4": v4, "v5": v5, "v6": v6}
e_series = {"e1": e1, "e2": e2, "e3": e3, "e4": e4, "e5": e5, "e6": e6}

x_ticks = [0, 1000, 2000, 3000, 4000, 5000, 6000, 7000]
x_tick_labels = ["0", "1000", "2000", "3000", "4000", "5000", "6000", "7000"]
v_ticks = [-0.02, 0, 0.02]
v_tick_labels = ["-0.02", "0", "0.02"]
e_ticks = [-0.002, 0, 0.002]
e_tick_labels = ["-2", "0", "2"]

# ---------------- styling ----------------
sns.set_theme(style="white")
plt.rcParams["font.family"] = ["Liberation Sans", "DejaVu Sans"]
plt.rcParams["axes.unicode_minus"] = False
plt.rcParams["mathtext.fontset"] = "custom"
plt.rcParams["mathtext.bf"] = "Liberation Serif:bold"
plt.rcParams["mathtext.rm"] = "Liberation Sans"
plt.rcParams["mathtext.default"] = "regular"

W, H = 3491, 1968
fig = plt.figure(figsize=(W / 100, H / 100), dpi=100)
fig.patch.set_facecolor("white")

TXT = "#333333"
AX = "#262626"
GREEN = "#00FF00"
BLUE = "#0000FF"
RED = "#FF0000"


def make_ax(col, row):
    left = 213 if col == 0 else 2033
    top = 124 + 271 * row
    return fig.add_axes([left / W, 1 - (top + 111) / H, 1379 / W, 111 / H])


def style(ax):
    ax.set_xlim(0, 7000)
    ax.set_xticks(x_ticks)
    ax.set_xticklabels(x_tick_labels)
    ax.tick_params(axis="both", direction="in", length=8, width=1.5, color=AX,
                   top=True, right=True, labelsize=35, labelcolor=TXT)
    ax.tick_params(axis="x", pad=20)
    ax.tick_params(axis="y", pad=9)
    for s in ax.spines.values():
        s.set_linewidth(2.4)
        s.set_color(AX)
        s.set_visible(True)
    ax.grid(True, color="#d6d6d6", lw=1.5)
    ax.set_axisbelow(True)
    ax.set_facecolor("white")


left_axes = []
for i, (name, vals) in enumerate(v_series.items()):
    ax = make_ax(0, i)
    df = pd.DataFrame({"t": np.arange(len(vals)) * dt_v_ms, "v": vals})
    sns.scatterplot(data=df, x="t", y="v", ax=ax, color=GREEN, s=170,
                    edgecolor="none", linewidth=0, legend=False, zorder=2)
    sns.lineplot(data=df, x="t", y="v", ax=ax, color=BLUE, lw=3,
                 sort=False, estimator=None, legend=False, zorder=3)
    if name == "v2":
        ax.vlines(v2_spike_times_ms, v2_spike_low, v2_spike_high, color=BLUE, lw=3, zorder=3)
    style(ax)
    ax.set_ylim(-0.0215, 0.0215)
    ax.set_yticks(v_ticks)
    ax.set_yticklabels(v_tick_labels)
    ax.set_ylabel(name, fontsize=37, color=TXT)
    ax.yaxis.label.set_va("center")
    ax.yaxis.set_label_coords(-0.119, 0.5)
    ax.set_xlabel("")
    left_axes.append(ax)

right_axes = []
for i, (name, vals) in enumerate(e_series.items()):
    ax = make_ax(1, i)
    df = pd.DataFrame({"t": np.arange(len(vals)) * dt_e_ms, "e": np.array(vals) * 1e-3})
    sns.lineplot(data=df, x="t", y="e", ax=ax, color=RED, lw=2.8,
                 sort=False, estimator=None, legend=False, zorder=3)
    style(ax)
    ax.set_ylim(-0.0024, 0.0024)
    ax.set_yticks(e_ticks)
    ax.set_yticklabels(e_tick_labels)
    ax.set_ylabel(name, fontsize=37, color=TXT)
    ax.yaxis.label.set_va("center")
    ax.yaxis.set_label_coords(-0.0667, 0.5)
    ax.set_xlabel("")
    ax.text(0.003, 1.15, r"$\times10^{-3}$", transform=ax.transAxes, ha="left",
            va="baseline", fontsize=32, color=TXT)
    right_axes.append(ax)

for ax in (left_axes[-1], right_axes[-1]):
    ax.set_xlabel("Time (ms)", fontsize=39, color=TXT)
    ax.xaxis.label.set_va("center")
    ax.xaxis.set_label_coords(0.5, -1.02)

# legends
h_data = Line2D([], [], color=GREEN, marker="o", linestyle="none", markersize=12)
h_pred = Line2D([], [], color=BLUE, lw=3)
leg = left_axes[0].legend([h_data, h_pred], ["Data", "Prediction"], loc="upper left",
                          bbox_to_anchor=(1222 / W, 1 - 27 / H), bbox_transform=fig.transFigure,
                          fontsize=32, handlelength=4.25, handletextpad=0.27, borderpad=0.42,
                          labelspacing=0.55, borderaxespad=0, frameon=True, fancybox=False,
                          framealpha=1, numpoints=1)
leg.get_frame().set_edgecolor(AX)
leg.get_frame().set_linewidth(2.0)
leg.set_zorder(10)
for t in leg.get_texts():
    t.set_color(AX)

h_err = Line2D([], [], color=RED, lw=3)
leg2 = right_axes[0].legend([h_err], ["Error"], loc="upper right",
                            bbox_to_anchor=(3430 / W, 1 - 74 / H), bbox_transform=fig.transFigure,
                            fontsize=32, handlelength=4.25, handletextpad=0.27, borderpad=0.35,
                            borderaxespad=0, frameon=True, fancybox=False, framealpha=1)
leg2.get_frame().set_edgecolor(AX)
leg2.get_frame().set_linewidth(2.0)
leg2.set_zorder(10)
for t in leg2.get_texts():
    t.set_color(AX)

# panel labels
fig.text(800 / W, 1 - 1890 / H, r"($\mathbf{a}$)", ha="center", va="center",
         fontsize=55, color="black", family=["Liberation Serif", "DejaVu Serif"])
fig.text(2743 / W, 1 - 1890 / H, r"($\mathbf{b}$)", ha="center", va="center",
         fontsize=55, color="black", family=["Liberation Serif", "DejaVu Serif"])

fig.savefig("out.png", dpi=100, facecolor="white")
